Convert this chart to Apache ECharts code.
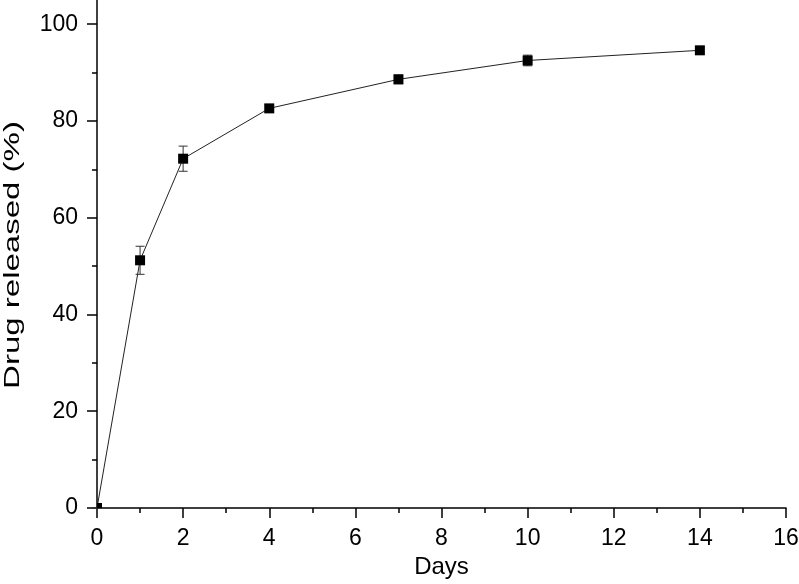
<!DOCTYPE html>
<html>
<head>
<meta charset="utf-8">
<script src="https://cdn.jsdelivr.net/npm/echarts@6/dist/echarts.min.js"></script>
<style>html,body{margin:0;padding:0;background:#fff}#c{width:799px;height:584px}</style>
</head>
<body>
<div id="c"></div>
<script>
var days = [0, 1, 2, 4, 7, 10, 14];
var released = [0, 51.2, 72.2, 82.6, 88.6, 92.5, 94.6];
var errors = [0, 2.9, 2.6, 0.8, 0.9, 1.1, 0.5];
var yTickLabels = [0, 20, 40, 60, 80, 100];
var yMinorTicks = [10, 30, 50, 70, 90];
var xTitle = 'Days';
var yTitle = 'Drug released (%)';

var lineData = days.map(function (d, i) { return [d, released[i]]; });
var errData = days.map(function (d, i) { return [d, released[i] - errors[i], released[i] + errors[i]]; });

var font = '"Liberation Sans", Arial, sans-serif';
var chart = echarts.init(document.getElementById('c'), null, { renderer: 'canvas' });
chart.setOption({
  animation: false,
  backgroundColor: '#fff',
  grid: { left: 97, right: 13, top: 0, bottom: 76, containLabel: false, outerBoundsMode: 'none' },
  graphic: [{
    type: 'text',
    x: 13, y: 255,
    rotation: Math.PI / 2,
    scaleX: 1.5,
    style: { text: yTitle, font: '22px ' + font, fill: '#000', textAlign: 'center', textVerticalAlign: 'middle' }
  }],
  xAxis: {
    type: 'value', min: 0, max: 16, interval: 2,
    name: xTitle, nameLocation: 'middle', nameGap: 44,
    nameTextStyle: { fontFamily: font, fontSize: 24, color: '#000' },
    axisLine: { show: true, lineStyle: { color: '#000', width: 1.5 } },
    axisTick: { show: true, inside: false, length: 10, lineStyle: { color: '#000', width: 1.5 } },
    minorTick: { show: true, splitNumber: 2, length: 5, lineStyle: { color: '#000', width: 1.5 } },
    axisLabel: { fontFamily: font, fontSize: 23, color: '#000', margin: 19 },
    splitLine: { show: false }
  },
  yAxis: [{
    type: 'value', min: 0, max: 105,
    axisLine: { show: true, lineStyle: { color: '#000', width: 1.5 } },
    axisTick: { show: true, inside: false, length: 10, customValues: yTickLabels, lineStyle: { color: '#000', width: 1.5 } },
    axisLabel: { fontFamily: font, fontSize: 23, color: '#000', margin: 19, customValues: yTickLabels },
    splitLine: { show: false }
  }, {
    type: 'value', min: 0, max: 105, position: 'left', offset: 0,
    axisLine: { show: false },
    axisTick: { show: true, inside: false, length: 5, customValues: yMinorTicks, lineStyle: { color: '#000', width: 1.5 } },
    axisLabel: { show: false },
    splitLine: { show: false }
  }],
  series: [{
    type: 'custom',
    renderItem: function (params, api) {
      var x = api.value(0);
      var lo = api.coord([x, api.value(1)]);
      var hi = api.coord([x, api.value(2)]);
      var hw = 4.5;
      var st = { stroke: '#333', lineWidth: 1 };
      return {
        type: 'group',
        children: [
          { type: 'line', shape: { x1: lo[0], y1: lo[1], x2: hi[0], y2: hi[1] }, style: st },
          { type: 'line', shape: { x1: lo[0] - hw, y1: lo[1], x2: lo[0] + hw, y2: lo[1] }, style: st },
          { type: 'line', shape: { x1: hi[0] - hw, y1: hi[1], x2: hi[0] + hw, y2: hi[1] }, style: st }
        ]
      };
    },
    data: errData,
    encode: { x: 0, y: [1, 2] },
    z: 1
  }, {
    type: 'line',
    data: lineData,
    showSymbol: false,
    lineStyle: { color: '#222', width: 1 },
    z: 2
  }, {
    type: 'custom',
    clip: true,
    renderItem: function (params, api) {
      var p = api.coord([api.value(0), api.value(1)]);
      var s = 10;
      return { type: 'rect', shape: { x: p[0] - s / 2, y: p[1] - s / 2, width: s, height: s }, style: { fill: '#000' } };
    },
    data: lineData,
    encode: { x: 0, y: 1 },
    z: 3
  }]
});
</script>
</body>
</html>
